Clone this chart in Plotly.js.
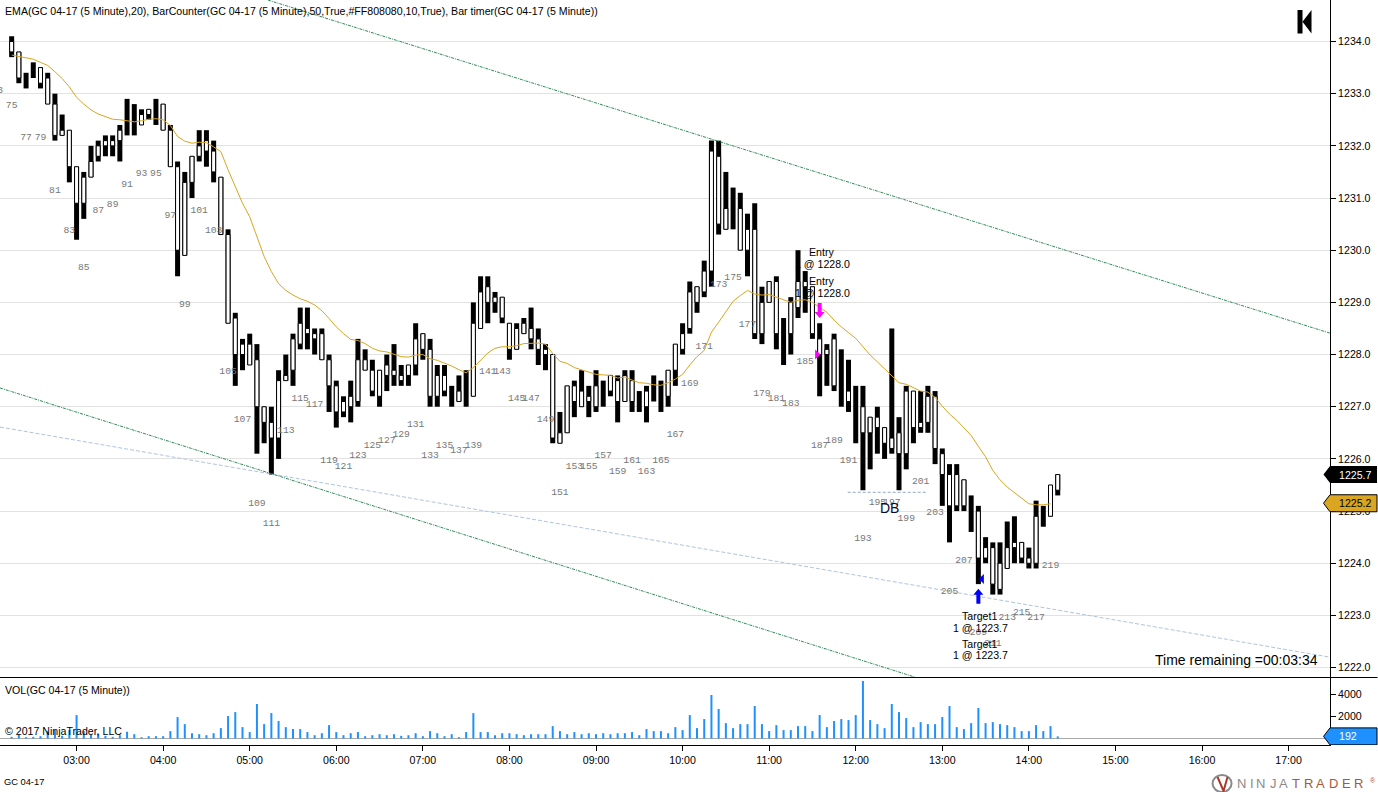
<!DOCTYPE html>
<html>
<head>
<meta charset="utf-8">
<script src="https://cdn.plot.ly/plotly-3.0.0.min.js"></script>
<style>html,body{margin:0;padding:0;background:#fff;overflow:hidden}</style>
</head>
<body>
<div id="chart" style="width:1378px;height:792px"></div>
<script>
// ---------- DATA ----------
const barHigh = [1234.1,1233.8,1233.4,1233.6,1233.5,1233.4,1233.0,1232.6,1232.3,1231.6,1231.5,1232.0,1232.1,1232.2,1232.2,1232.4,1232.9,1232.8,1232.7,1232.7,1232.9,1232.8,1232.4,1231.7,1231.5,1231.8,1232.3,1232.3,1232.1,1231.4,1230.4,1228.8,1228.3,1228.4,1228.2,1227.0,1227.0,1227.7,1228.0,1228.4,1228.9,1228.9,1228.5,1228.5,1228.0,1227.5,1227.2,1227.5,1228.3,1228.1,1227.9,1227.7,1228.0,1228.2,1227.8,1227.8,1228.6,1228.4,1228.3,1227.8,1227.8,1227.4,1227.6,1227.7,1229.0,1229.5,1229.5,1229.2,1229.1,1228.6,1228.6,1228.7,1228.9,1228.5,1228.2,1228.0,1226.9,1227.4,1227.5,1227.7,1227.4,1227.7,1227.5,1227.6,1227.6,1227.7,1227.7,1227.3,1227.4,1227.6,1227.5,1227.7,1228.2,1228.6,1229.4,1229.3,1229.8,1232.1,1232.1,1231.5,1231.2,1231.1,1230.7,1230.9,1229.3,1229.4,1229.5,1228.7,1229.1,1230.0,1229.6,1229.3,1228.6,1228.2,1228.4,1228.1,1227.9,1227.4,1227.4,1226.8,1227.0,1226.6,1228.5,1226.8,1227.4,1227.3,1227.3,1227.4,1227.3,1226.2,1225.9,1225.9,1225.6,1225.3,1225.1,1224.5,1224.4,1224.4,1224.8,1224.9,1224.4,1224.3,1225.2,1225.1,1225.5,1225.7];
const barLow = [1233.7,1233.2,1233.1,1233.3,1233.1,1232.8,1232.1,1232.2,1231.3,1230.2,1230.6,1231.4,1231.7,1231.8,1231.8,1231.7,1232.2,1232.2,1232.4,1232.5,1232.4,1232.3,1231.6,1229.5,1229.9,1231.0,1231.7,1231.6,1231.3,1230.3,1228.6,1227.4,1227.7,1227.8,1226.1,1226.3,1225.7,1226.0,1227.5,1227.4,1228.1,1228.1,1228.0,1227.9,1226.9,1226.6,1226.8,1226.7,1227.0,1227.7,1227.2,1227.0,1227.3,1227.4,1227.4,1227.4,1227.6,1227.9,1227.0,1227.0,1227.2,1227.0,1227.1,1227.0,1227.2,1228.5,1228.6,1228.8,1228.6,1227.9,1228.1,1228.4,1228.1,1227.8,1227.7,1226.3,1226.3,1226.5,1226.8,1227.0,1226.8,1226.9,1227.0,1227.2,1226.7,1227.1,1226.9,1226.9,1226.7,1227.1,1226.9,1227.0,1227.4,1228.0,1228.4,1228.8,1229.1,1229.3,1230.3,1230.4,1230.4,1230.0,1229.5,1228.3,1228.2,1229.0,1228.1,1227.8,1228.0,1228.7,1228.8,1228.3,1227.2,1227.4,1227.3,1227.0,1226.9,1226.3,1225.4,1225.8,1226.1,1226.0,1226.1,1225.4,1225.8,1226.3,1226.5,1226.5,1225.9,1225.1,1224.4,1225.0,1225.0,1224.6,1223.6,1224.0,1223.4,1223.4,1223.9,1224.0,1224.0,1223.9,1223.9,1224.7,1224.9,1225.3];
const bodyTop = [1234.0,1233.8,null,null,1233.5,1233.3,1232.8,1232.3,1232.3,1231.6,1231.4,1231.7,1232.0,1232.1,1232.1,1232.3,null,null,1232.6,1232.7,null,1232.8,1232.3,1231.6,1231.3,1231.8,1232.0,1232.1,1231.9,1231.4,1230.3,1228.7,1228.2,1228.2,1227.9,1227.0,1226.7,1227.5,1227.6,1228.3,1228.6,1228.5,1228.4,1228.4,1227.9,1227.4,1227.1,1227.2,1227.9,1227.9,1227.7,1227.7,1227.8,1227.7,1227.6,1227.8,1228.3,1228.4,1228.1,1227.6,1227.6,null,1227.3,null,1228.6,1229.2,1229.3,1229.1,1229.1,1228.6,1228.5,1228.6,1228.5,1228.3,1228.1,1228.0,1226.5,1227.4,1227.4,1227.3,1227.2,1227.4,null,1227.6,1227.5,1227.6,1227.5,null,1227.3,null,null,1227.7,1228.2,1228.4,1229.2,1229.3,1229.6,1231.9,1231.8,1230.8,null,1230.8,1230.4,1230.4,1229.0,1229.4,1229.4,null,1229.0,1229.4,1229.4,1229.3,1228.3,1228.1,1228.3,null,1227.3,null,1227.0,1226.8,1226.8,1226.6,1226.4,1226.5,1227.3,1227.3,1226.7,1227.2,1227.2,1226.1,1225.7,1225.7,1225.6,null,1225.0,1224.3,1224.3,1224.0,1224.3,1224.4,1224.4,1224.1,1224.9,null,1225.5,1225.7];
const bodyBottom = [1233.8,1233.3,null,null,1233.2,1232.8,1232.2,1232.2,1231.6,1230.9,1230.9,1231.4,1231.8,1232.0,1232.0,1232.1,null,null,1232.4,1232.6,null,1232.3,1231.6,1230.0,1229.9,1231.3,1231.8,1231.9,1231.5,1230.3,1228.6,1228.0,1228.0,1227.8,1227.0,1226.7,1226.4,1226.4,1227.5,1227.7,1228.2,1228.4,1228.3,1227.9,1227.4,1226.9,1226.9,1227.0,1227.1,1227.7,1227.3,1227.2,1227.6,1227.6,1227.5,1227.6,1227.8,1228.1,1227.2,1227.2,1227.3,null,1227.1,null,1227.2,1228.5,1229.0,1229.0,1228.7,1228.1,1228.1,1228.4,1228.3,1228.1,1228.0,1226.4,1226.3,1226.5,1227.1,1227.0,1227.1,1227.0,null,1227.3,1227.1,1227.1,1227.1,null,1227.0,null,null,1227.2,1227.7,1228.1,1228.5,1229.0,1229.2,1229.6,1230.5,1230.4,null,1230.0,1230.0,1228.4,1228.4,1229.0,1228.4,null,1228.4,1228.9,1229.3,1228.4,1228.0,1228.0,1227.4,null,1227.1,null,1226.5,1226.5,1226.6,1226.3,1226.2,1226.1,1226.1,1226.6,1226.6,1226.7,1226.2,1225.7,1225.1,1225.1,1225.1,null,1224.1,1224.1,1223.6,1223.5,1223.9,1224.3,1224.1,1224.0,1224.0,null,1224.9,1225.4];
const emaValues = [1233.74,1233.71,1233.69,1233.66,1233.60,1233.54,1233.42,1233.29,1233.13,1232.93,1232.80,1232.69,1232.61,1232.56,1232.51,1232.50,1232.48,1232.46,1232.48,1232.51,1232.52,1232.50,1232.39,1232.18,1232.09,1232.05,1232.07,1232.06,1231.98,1231.89,1231.54,1231.22,1230.90,1230.64,1230.26,1229.88,1229.59,1229.36,1229.23,1229.14,1229.07,1229.02,1228.95,1228.84,1228.69,1228.53,1228.40,1228.29,1228.27,1228.21,1228.12,1228.07,1228.05,1228.01,1227.96,1227.95,1227.99,1228.00,1227.92,1227.89,1227.84,1227.78,1227.71,1227.65,1227.75,1227.89,1228.03,1228.12,1228.15,1228.15,1228.17,1228.21,1228.22,1228.22,1228.20,1228.02,1227.87,1227.83,1227.75,1227.71,1227.66,1227.62,1227.61,1227.60,1227.55,1227.57,1227.51,1227.46,1227.45,1227.42,1227.41,1227.46,1227.53,1227.62,1227.80,1227.96,1228.08,1228.43,1228.62,1228.82,1229.02,1229.13,1229.23,1229.16,1229.14,1229.15,1229.10,1229.04,1229.00,1229.04,1229.05,1229.00,1228.91,1228.81,1228.66,1228.53,1228.42,1228.31,1228.15,1227.99,1227.86,1227.73,1227.60,1227.46,1227.43,1227.36,1227.30,1227.28,1227.18,1227.01,1226.86,1226.74,1226.59,1226.45,1226.24,1226.04,1225.78,1225.60,1225.46,1225.35,1225.24,1225.14,1225.12,1225.12,1225.14];
const volumes = [150,360,120,150,210,670,760,240,760,2120,670,360,450,240,150,300,610,390,120,210,210,210,670,1940,1300,480,390,300,480,940,2030,2390,1030,580,3120,1300,2300,1580,1030,850,850,580,300,480,1210,580,300,480,580,210,300,390,300,390,240,300,480,210,670,480,210,390,120,580,2300,580,580,300,480,480,390,300,390,390,390,1120,670,390,580,390,480,390,480,390,480,480,580,300,850,670,670,480,1030,760,2120,940,1760,3940,2670,1390,940,1300,1300,2940,1300,670,1210,760,760,1120,1120,670,2120,1030,1580,1760,1670,2120,5210,1670,1300,940,3120,2390,1850,1030,1480,1300,1300,1940,2940,1030,850,1390,2760,1390,1480,1300,1210,1030,670,670,1210,670,1120,192];
const counterNumbers = [73,75,77,79,81,83,85,87,89,91,93,95,97,99,101,103,105,107,109,111,113,115,117,119,121,123,125,127,129,131,133,135,137,139,141,143,145,147,149,151,153,155,157,159,161,163,165,167,169,171,173,175,177,179,181,183,185,187,189,191,193,195,197,199,201,203,205,207,209,211,213,215,217,219];
const counterPrices = [1233.06,1232.77,1232.15,1232.15,1231.15,1230.37,1229.66,1230.76,1230.87,1231.26,1231.46,1231.46,1230.66,1228.95,1230.76,1230.37,1227.67,1226.76,1225.15,1224.76,1226.55,1227.15,1227.05,1225.96,1225.86,1226.06,1226.25,1226.36,1226.46,1226.65,1226.06,1226.25,1226.15,1226.25,1227.67,1227.67,1227.15,1227.15,1226.76,1225.35,1225.86,1225.86,1226.06,1225.75,1225.96,1225.75,1225.96,1226.46,1227.45,1228.16,1229.35,1229.47,1228.57,1227.26,1227.15,1227.06,1227.86,1226.25,1226.36,1225.96,1224.47,1225.16,1225.16,1224.85,1225.56,1224.97,1223.45,1224.06,1222.67,1222.47,1222.96,1223.05,1222.96,1223.95];
const hourTicks = ['03:00','04:00','05:00','06:00','07:00','08:00','09:00','10:00','11:00','12:00','13:00','14:00','15:00','16:00','17:00'];
const day = '2017-03-10 ';
const upperTrendTimes = ['05:12:36','17:28:42'], upperTrendPrices = [1234.795,1228.41];
const lowerTrendTimes = ['02:06:56','12:40:50'], lowerTrendPrices = [1227.36,1221.82];
const channelTimes = ['02:06:56','17:28:42'], channelPrices = [1226.61,1222.20];
const dbTimes = ['11:54:26','12:49:50'], dbPrices = [1225.36,1225.36];
const lastPrice = 1225.7, lastEma = 1225.15, lastVolume = 192;

// ---------- TIME BASE ----------
const pad = n => String(n).padStart(2,'0');
const barTime = i => { const m = 135 + i*5; return day + pad(Math.floor(m/60)) + ':' + pad(m%60) + ':00'; };
const times = barHigh.map((_,i)=>barTime(i));
const counterTimes = counterNumbers.map(n=>barTime(n-75));
const at = a => a.map(t=>day+t);
const pxPerMin = 1.4434;
const minMs = 60000;

// ---------- TRACES ----------
const traces = [
  {type:'bar', x:times, base:barLow, y:barHigh.map((h,i)=>h-barLow[i]), width:5/pxPerMin*minMs,
   marker:{color:'#000', line:{width:0}}, yaxis:'y', xaxis:'x', hoverinfo:'skip'},
  {type:'bar', x:times, base:bodyBottom, y:bodyTop.map((t,i)=>t===null?null:t-bodyBottom[i]), width:4/pxPerMin*minMs,
   marker:{color:'#fff', line:{color:'#000',width:1}}, yaxis:'y', xaxis:'x', hoverinfo:'skip'},
  {type:'bar', x:times, y:volumes, width:2/pxPerMin*minMs, marker:{color:'#1E90FF', line:{width:0}},
   yaxis:'y2', xaxis:'x', hoverinfo:'skip'},
  {type:'scatter', mode:'lines', x:at(channelTimes), y:channelPrices, line:{color:'#B0C4DE',width:1,dash:'4px,2px'}, yaxis:'y', hoverinfo:'skip'},
  {type:'scatter', mode:'lines', x:at(upperTrendTimes), y:upperTrendPrices, line:{color:'#2E8B57',width:1,dash:'3px,1px,1px,1px'}, yaxis:'y', hoverinfo:'skip'},
  {type:'scatter', mode:'lines', x:at(lowerTrendTimes), y:lowerTrendPrices, line:{color:'#2E8B57',width:1,dash:'3px,1px,1px,1px'}, yaxis:'y', hoverinfo:'skip'},
  {type:'scatter', mode:'lines', x:at(dbTimes), y:dbPrices, line:{color:'#8FA8CC',width:1,dash:'3px,2px'}, yaxis:'y', hoverinfo:'skip'},
  {type:'scatter', mode:'lines', x:times.slice(0,emaValues.length), y:emaValues, line:{color:'#DAA520',width:1}, yaxis:'y', hoverinfo:'skip'},
  {type:'scatter', mode:'text', x:counterTimes, y:counterPrices, text:counterNumbers.map(String),
   textposition:'middle center', textfont:{family:'Liberation Mono, monospace', size:9.7, color:'#777'}, yaxis:'y', hoverinfo:'skip', cliponaxis:true}
];

// ---------- PIXEL HELPERS FOR DECORATION ----------
const plotW = 1330.5, plotH = 745;
const paperX = px => px/plotW, paperY = py => (plotH-py)/plotH;
const FONT = 'Liberation Sans, Arial, sans-serif';
function note(text, px, py, size, extra){
  return Object.assign({text:text, xref:'paper', yref:'paper', x:paperX(px), y:paperY(py), xanchor:'left', yanchor:'middle',
    showarrow:false, borderpad:0, borderwidth:0, font:{family:FONT,size:size,color:'#000'}}, extra||{});
}
const T = 10.6;
const annotations = [
  note('EMA(GC 04-17 (5 Minute),20), BarCounter(GC 04-17 (5 Minute),50,True,#FF808080,10,True), Bar timer(GC 04-17 (5 Minute))', 5, 11, T),
  note('VOL(GC 04-17 (5 Minute))', 5, 689.5, T),
  note('© 2017 NinjaTrader, LLC', 5, 731, T),
  note('GC 04-17', 4, 782, 9.3),
  note('Time remaining =00:03:34', 1155.5, 660, 14),
  note('Entry', 809, 251.5, T),
  note('1 @ 1228.0', 795, 263.5, T),
  note('Entry', 809, 280.5, T),
  note('1 @ 1228.0', 795, 292.5, T),
  note('Target1', 962, 615.5, T),
  note('1 @ 1223.7', 953, 627.5, T),
  note('Target1', 962, 643.5, T),
  note('1 @ 1223.7', 953, 655, T),
  note('DB', 880.5, 508, 14, {font:{family:FONT,size:14,color:'#0a0a2a'}}),
  note('1225.7', 1339.5, 474.5, T, {font:{family:FONT,size:T,color:'#fff'}}),
  note('1225.2', 1339.5, 503, T),
  note('192', 1340, 736, T, {font:{family:FONT,size:T,color:'#fff'}})
];
// logo letters
const logoLetters = ['N','I','N','J','A','T','R','A','D','E','R'];
const logoX = [1237,1250,1256.5,1270,1279,1292,1304,1316,1329,1343,1355];
logoLetters.forEach((l,i)=>annotations.push(note(l, logoX[i], 783, 13, {font:{family:FONT,size:13,color:i<5?'#8a8a8a':'#a9583a'}})));
annotations.push(note('®', 1371, 780, 7, {font:{family:FONT,size:7,color:'#a9583a'}}));

// tags and arrows: outlines in pixels, anchored through the axes
function pixShape(path, xanchor, xref, yanchor, yref, fill, line){
  return {type:'path', path:path, xsizemode:'pixel', ysizemode:'pixel', xanchor:xanchor, yanchor:yanchor, xref:xref, yref:yref,
    fillcolor:fill, line:{color:line||fill, width:line?1:0}, layer:'above'};
}
const tagPath = 'M -6.5,0 L 0,8.5 L 47,8.5 L 47,-8.5 L 0,-8.5 Z';
const downArrow = 'M 0,0 L 5,6 L 2,6 L 2,15 L -2,15 L -2,6 L -5,6 Z';
const upArrow = 'M 0,0 L 5,-6 L 2,-6 L 2,-15 L -2,-15 L -2,-6 L -5,-6 Z';
const shapes = [
  pixShape(tagPath, 1, 'paper', lastPrice, 'y', '#000'),
  pixShape(tagPath, 1, 'paper', lastEma, 'y', '#DAA520', '#000'),
  pixShape(tagPath, 1, 'paper', lastVolume, 'y2', '#1E90FF', '#000'),
  pixShape(downArrow, times[112], 'x', 1228.70, 'y', '#FF00FF'),
  pixShape('M 1,0 L -4.5,5 L -4.5,-5 Z', times[112], 'x', 1228.0, 'y', '#FF00FF'),
  pixShape('M 0.5,0 L 5.5,5 L 5.5,-5 Z', times[134], 'x', 1223.7, 'y', '#0000FF'),
  pixShape(upArrow, times[134], 'x', 1223.51, 'y', '#0000FF'),
  // chart-end marker at top right
  {type:'rect', xref:'paper', yref:'paper', x0:paperX(1298), x1:paperX(1303), y0:paperY(33.5), y1:paperY(10), fillcolor:'#000', line:{width:0}},
  {type:'path', xref:'paper', yref:'paper', path:`M ${paperX(1303)},${paperY(21.7)} L ${paperX(1312)},${paperY(10)} L ${paperX(1312)},${paperY(33.5)} Z`, fillcolor:'#000', line:{width:0}},
  // panel separator
  {type:'line', xref:'paper', yref:'paper', x0:0, x1:paperX(1378), y0:paperY(677.5), y1:paperY(677.5), line:{color:'#000',width:1}, layer:'above'},
  // logo mark
  {type:'circle', xref:'paper', yref:'paper', x0:paperX(1213), x1:paperX(1232), y0:paperY(792), y1:paperY(775), line:{color:'#8a8a8a',width:2}, fillcolor:'rgba(0,0,0,0)'},
  {type:'path', xref:'paper', yref:'paper', path:`M ${paperX(1218)},${paperY(777)} L ${paperX(1224)},${paperY(791)} L ${paperX(1228)},${paperY(777)}`, line:{color:'#a9382a',width:2}}
];

// ---------- LAYOUT ----------
const layout = {
  width:1378, height:792, paper_bgcolor:'#fff', plot_bgcolor:'#fff', showlegend:false, barmode:'overlay', dragmode:false,
  margin:{l:0,r:47.5,t:0,b:47,pad:0},
  font:{family:FONT,size:T,color:'#000'},
  xaxis:{type:'date', anchor:'y2', domain:[0,1], range:[day+'02:06:56', day+'17:28:42'],
    tickmode:'array', tickvals:hourTicks.map(h=>day+h+':00'), ticktext:hourTicks,
    ticks:'outside', ticklen:5, tickcolor:'#000', tickwidth:1, showline:true, linecolor:'#000', linewidth:1, showgrid:false, zeroline:false,
    tickfont:{family:FONT,size:T,color:'#000'}},
  yaxis:{domain:[68/745,1], side:'right', anchor:'x', range:[1221.82,1234.795], dtick:1, tick0:1222, tickformat:'.1f',
    ticks:'outside', ticklen:5, tickcolor:'#000', tickwidth:1, showline:true, linecolor:'#000', linewidth:1,
    showgrid:true, gridcolor:'#E2E2E2', gridwidth:1, zeroline:false, tickfont:{family:FONT,size:T,color:'#000'}},
  yaxis2:{domain:[0,68/745], side:'right', anchor:'x', range:[-588,5566], tickmode:'array', tickvals:[2000,4000], ticktext:['2000','4000'],
    ticks:'outside', ticklen:5, tickcolor:'#000', tickwidth:1, showline:true, linecolor:'#000', linewidth:1,
    showgrid:false, zeroline:true, zerolinecolor:'#A9A9A9', zerolinewidth:1, tickfont:{family:FONT,size:T,color:'#000'}},
  annotations:annotations, shapes:shapes
};
Plotly.newPlot('chart', traces, layout, {staticPlot:true, displayModeBar:false});
</script>
</body>
</html>
